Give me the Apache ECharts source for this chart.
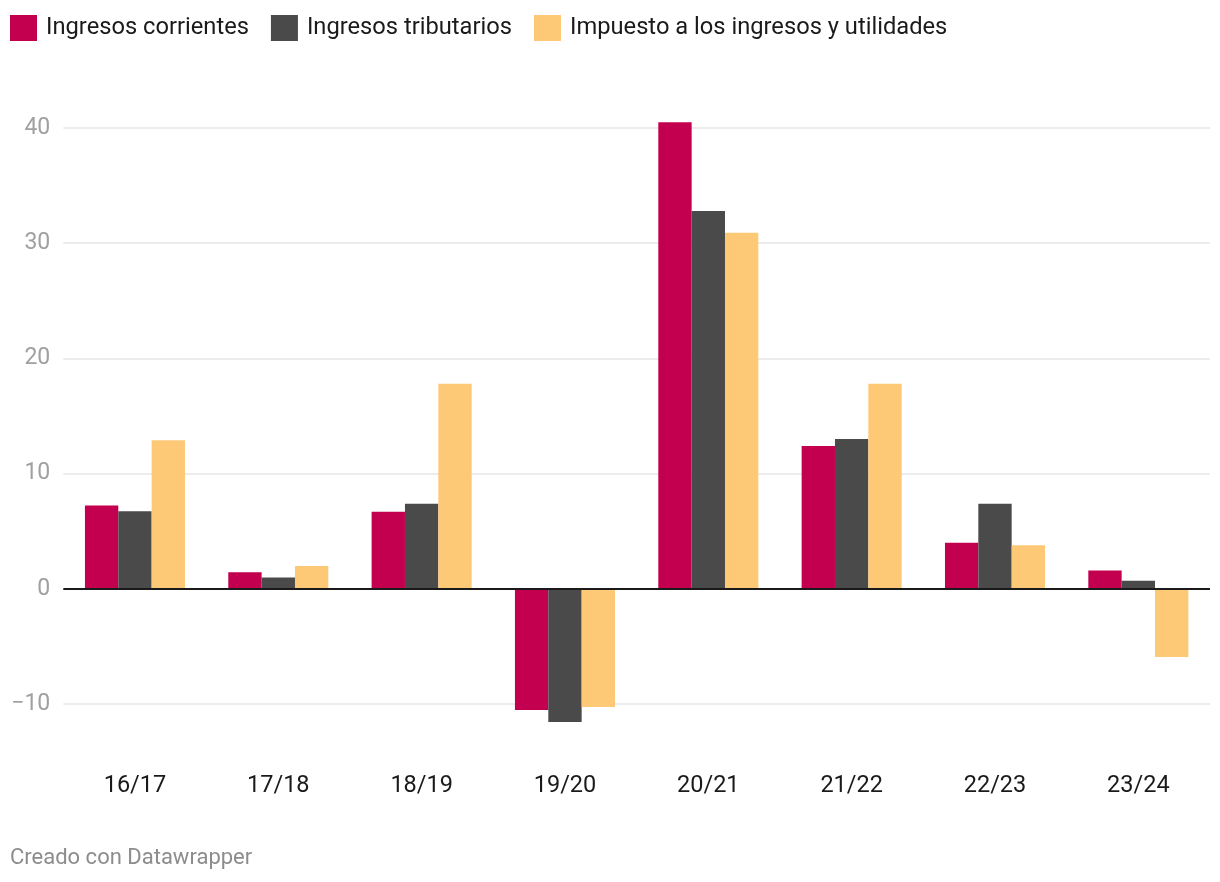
<!DOCTYPE html>
<html>
<head>
<meta charset="utf-8">
<script src="https://cdn.jsdelivr.net/npm/echarts@6/dist/echarts.min.js"></script>
<style>
html,body{margin:0;padding:0;background:#fff;}
#chart{width:1220px;height:882px;}
</style>
</head>
<body>
<div id="chart"></div>
<script>
const categories = ['16/17','17/18','18/19','19/20','20/21','21/22','22/23','23/24'];
const ingresosCorrientes = [7.25, 1.45, 6.7, -10.5, 40.5, 12.4, 4.0, 1.6];
const ingresosTributarios = [6.75, 1.0, 7.4, -11.55, 32.8, 13.0, 7.4, 0.7];
const impuestoIngresos = [12.9, 2.0, 17.8, -10.25, 30.9, 17.8, 3.8, -5.9];
const seriesNames = ['Ingresos corrientes','Ingresos tributarios','Impuesto a los ingresos y utilidades'];
const yTicks = {min: -10, max: 40, interval: 10};

const colors = ['#c3004f', '#4a4a4a', '#fec977'];
const font = 'Roboto, "Noto Sans", sans-serif';
const chart = echarts.init(document.getElementById('chart'));

const seriesData = [ingresosCorrientes, ingresosTributarios, impuestoIngresos];
const series = seriesData.map((d, i) => ({
  name: seriesNames[i],
  type: 'bar',
  data: d,
  clip: false,
  barGap: '0%',
  barCategoryGap: '30.2%',
  itemStyle: {color: colors[i]},
  silent: true
}));
series[0].markLine = {
  silent: true,
  symbol: 'none',
  label: {show: false},
  lineStyle: {color: '#1a1a1a', width: 2, type: 'solid'},
  data: [{yAxis: 0}],
  animation: false
};

chart.setOption({
  animation: false,
  textStyle: {fontFamily: font},
  legend: {
    left: 10, top: 15,
    padding: 0,
    icon: 'rect',
    itemWidth: 27, itemHeight: 26,
    itemGap: 22,
    textStyle: {fontSize: 23.7, color: '#1a1a1a', fontFamily: font, padding: [0,0,0,4]},
    data: seriesNames
  },
  grid: {left: 63.3, right: 10, top: 127.9, bottom: 882 - 704.2, containLabel: false},
  xAxis: {
    type: 'category',
    data: categories,
    axisLine: {show: false},
    axisTick: {show: false},
    axisLabel: {fontSize: 23.5, color: '#1a1a1a', margin: 70, fontFamily: font}
  },
  yAxis: {
    type: 'value',
    min: yTicks.min, max: yTicks.max, interval: yTicks.interval,
    axisLine: {show: false},
    axisTick: {show: false},
    axisLabel: {fontSize: 23, color: '#a0a0a0', margin: 13, fontFamily: font,
      formatter: v => v < 0 ? '\u2212' + Math.abs(v) : String(v)},
    splitLine: {lineStyle: {color: '#e6e6e6', width: 1.5}}
  },
  graphic: [{
    type: 'text', left: 10, top: 847,
    style: {text: 'Creado con Datawrapper', fontSize: 22, fill: '#8c8c8c', fontFamily: font}
  }],
  series: series
});
</script>
</body>
</html>
